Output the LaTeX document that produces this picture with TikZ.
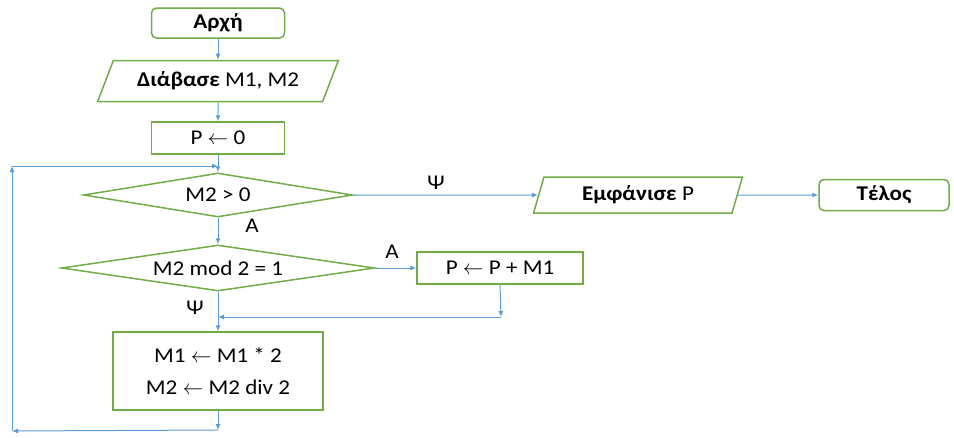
\documentclass[tikz,border=0pt]{standalone}
\usepackage{fontspec}
\setmainfont{Carlito}[FakeStretch=1.1]
\usetikzlibrary{arrows.meta,positioning,shapes.geometric}
\definecolor{fcgreen}{RGB}{112,173,71}
\definecolor{fcblue}{RGB}{91,155,213}

\begin{document}
\begin{tikzpicture}[x=1pt, y=-1pt,
  every node/.style={font=\fontsize{21}{24}\selectfont},
  box/.style={rectangle, draw=fcgreen, line width=1.5pt, inner sep=2pt},
  term/.style={box, rounded corners=5pt, font=\fontsize{21}{24}\selectfont\bfseries},
  io/.style={trapezium, draw=fcgreen, line width=1.5pt, trapezium stretches=true, inner sep=2pt},
  cond/.style={diamond, draw=fcgreen, line width=1.5pt, aspect=6, inner sep=0pt},
  flow/.style={fcblue, line width=1pt, -{Latex[length=6pt,width=5pt]}},
  lbl/.style={inner sep=0pt}]
\useasboundingbox (0,0) rectangle (954,437);
% Main column
\node[term, minimum width=133pt, minimum height=30pt] (start) at (218,23) {Αρχή};
\node[io, trapezium left angle=61, trapezium right angle=119, minimum width=241pt, minimum height=41pt] (read) at (218,81) {\textbf{Διάβασε} M1, M2};
\node[box, minimum width=133pt, minimum height=32pt] (init) at (218,138) {P $\leftarrow$ 0};
\node[cond, minimum width=269pt, minimum height=44pt] (test) at (218,195) {M2 > 0};
\node[cond, minimum width=313pt, minimum height=46pt] (odd) at (218,268) {M2 mod 2 = 1};
\node[box, minimum width=166pt, minimum height=32pt] (add) at (500,268) {P $\leftarrow$ P + M1};
\node[box, minimum width=210pt, minimum height=78pt, align=center] (upd) at (218,371)
  {M1 $\leftarrow$ M1 * 2\\[8pt]M2 $\leftarrow$ M2 div 2};
% Output and end
\node[io, trapezium left angle=74, trapezium right angle=106, minimum width=209pt, minimum height=36pt] (out) at (638,195) {\textbf{Εμφάνισε} P};
\node[term, minimum width=130pt, minimum height=31pt] (stop) at (884,195) {Τέλος};
% Helper points
\coordinate (m1) at (501,317);
\coordinate (m2) at (218,317);
\coordinate (b1) at (218,430);
\coordinate (b2) at (12,431);
\coordinate (l1) at (12,166);
\coordinate (l2) at (218,166);
% Connectors
\draw[flow] (start) -- (read);
\draw[flow] (read) -- (init);
\draw[flow] (init) -- (test);
\draw[flow] (test.east) -- (out.west);
\draw[flow] (out.east) -- (stop.west);
\draw[flow] (test.south) -- (odd.north);
\draw[flow] (odd.east) -- (add.west);
\draw[flow] (add.south) -- (m1);
\draw[flow] (m1) -- (m2);
\draw[flow] (odd.south) -- (upd.north);
\draw[flow] (upd.south) -- (b1);
\draw[flow] (b1) -- (b2);
\draw[flow] (b2) -- (l1);
\draw[flow] (l1) -- (l2);
% Branch labels
\node[lbl] (yes1) at (436,183) {Ψ};
\node[lbl] (no1) at (252,226) {A};
\node[lbl] (no2) at (392,252) {A};
\node[lbl] (yes2) at (195,308) {Ψ};
\end{tikzpicture}
\end{document}
